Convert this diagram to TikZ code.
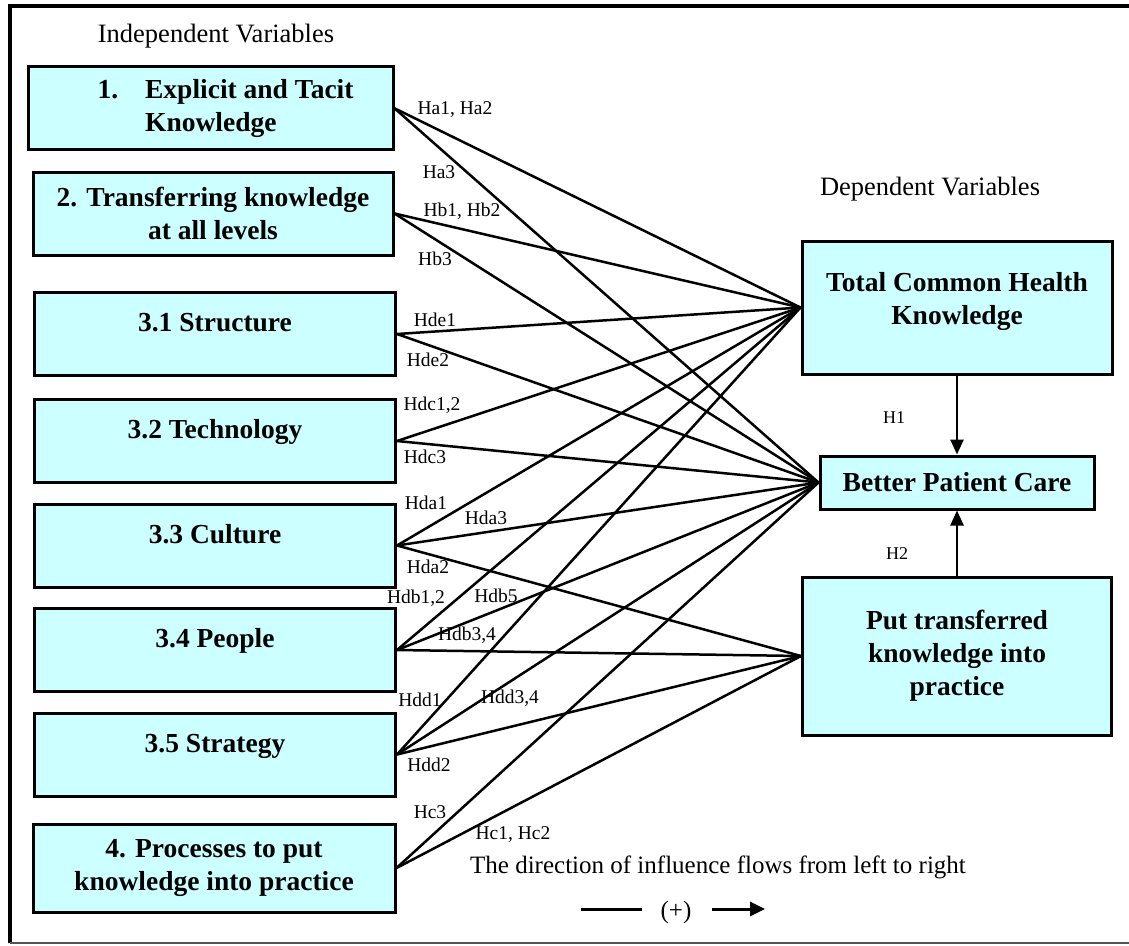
\documentclass[tikz,border=0pt]{standalone}
\usepackage{fontspec}
\setmainfont{Liberation Serif}
\usetikzlibrary{arrows.meta,positioning}
\definecolor{boxcyan}{RGB}{204,255,255}
\definecolor{framegray}{RGB}{85,85,85}

\tikzset{
  varbox/.style={draw=black, line width=3pt, fill=boxcyan, inner sep=0pt, align=center,
    font=\fontsize{27.5}{33}\selectfont\bfseries},
  hyplabel/.style={inner sep=0pt, font=\fontsize{19.5}{22}\selectfont},
  head/.style={inner sep=0pt, text depth=0pt, font=\fontsize{26.5}{30}\selectfont},
  link/.style={line width=2.5pt}
}

\begin{document}
\begin{tikzpicture}[x=1pt,y=-1pt]
\useasboundingbox (0,0) rectangle (1129,945);
\draw[line width=4pt] (10,943) -- (10,6) -- (1129,6);
\draw[framegray,line width=2pt] (10,943) -- (1129,943);

\node[head] (indep) at (216,33) {Independent Variables};
\node[head] (dep) at (930,186) {Dependent Variables};

% independent variables
\node[varbox,minimum width=365pt,minimum height=83pt] (expl) at (210.5,108.3)
  {\hspace*{30pt}\begin{tabular}{@{}l@{\hspace{27pt}}l@{}}1.&Explicit and Tacit\\&Knowledge\end{tabular}};
\node[varbox,minimum width=360pt,minimum height=83pt] (trans) at (213,213.5)
  {2. Transferring knowledge\\at all levels};
\foreach \name/\ypos/\txt in {str/334/3.1 Structure, tec/441/3.2 Technology, cul/545.5/3.3 Culture,
    peo/650/3.4 People, stg/754.5/3.5 Strategy}
  \node[varbox,minimum width=361pt,minimum height=83pt,text height=19pt,text depth=24pt] (\name) at (215,\ypos) {\txt};
\node[varbox,minimum width=362pt,minimum height=88pt] (proc) at (214,868)
  {4. Processes to put\\knowledge into practice};

% dependent variables
\node[varbox,minimum width=310pt,minimum height=133pt,text depth=19pt] (tchk) at (957,307.5)
  {Total Common Health\\Knowledge};
\node[varbox,minimum width=274pt,minimum height=53pt] (bpc) at (957,482.5) {Better Patient Care};
\node[varbox,minimum width=309pt,minimum height=158pt] (ptkp) at (957,656)
  {Put transferred\\knowledge into\\practice};

\foreach \src/\dst in {expl/tchk, expl/bpc, trans/tchk, trans/bpc, str/tchk, str/bpc,
    tec/tchk, tec/bpc, cul/tchk, cul/bpc, cul/ptkp, peo/tchk, peo/bpc, peo/ptkp,
    stg/tchk, stg/bpc, stg/ptkp, proc/bpc, proc/ptkp}
  \draw[link] (\src.east) -- (\dst.west);

\draw[link,-{Triangle[length=15pt,width=13pt]}] (tchk.south) -- (bpc.north);
\draw[link,-{Triangle[length=15pt,width=13pt]}] (ptkp.north) -- (bpc.south);
\node[hyplabel,font=\fontsize{18}{20}\selectfont] (h1) at (894,418) {H1};
\node[hyplabel,font=\fontsize{18}{20}\selectfont] (h2) at (897,554) {H2};

\foreach \name/\xpos/\ypos/\txt in {ha/455/110/{Ha1, Ha2}, hac/439/172/Ha3, hb/462/211/{Hb1, Hb2},
    hbc/435/259/Hb3, hde/435/320/Hde1, hdeb/428/360/Hde2, hdc/432/405/{Hdc1,2}, hdcc/425/457/Hdc3,
    hda/426/503/Hda1, hdac/486/518/Hda3, hdab/428/567/Hda2, hdb/416/598/{Hdb1,2}, hdbe/496/596/Hdb5,
    hdbc/467/635/{Hdb3,4}, hdd/420/700/Hdd1, hddc/510/698/{Hdd3,4}, hddb/429/765/Hdd2,
    hcc/430/812/Hc3, hc/513/835/{Hc1, Hc2}}
  \node[hyplabel] (\name) at (\xpos,\ypos) {\txt};

% legend
\node[head,font=\fontsize{25}{28}\selectfont] (flow) at (718,865) {The direction of influence flows from left to right};
\coordinate (lgA) at (581,909);
\coordinate (lgB) at (642,909);
\node[inner sep=0pt,font=\fontsize{25}{28}\selectfont] (plus) at (676,912) {(+)};
\coordinate (lgC) at (712,909);
\coordinate (lgD) at (765,909);
\draw[line width=3pt] (lgA) -- (lgB);
\draw[line width=3pt,-{Triangle[length=15pt,width=14pt]}] (lgC) -- (lgD);
\end{tikzpicture}
\end{document}
